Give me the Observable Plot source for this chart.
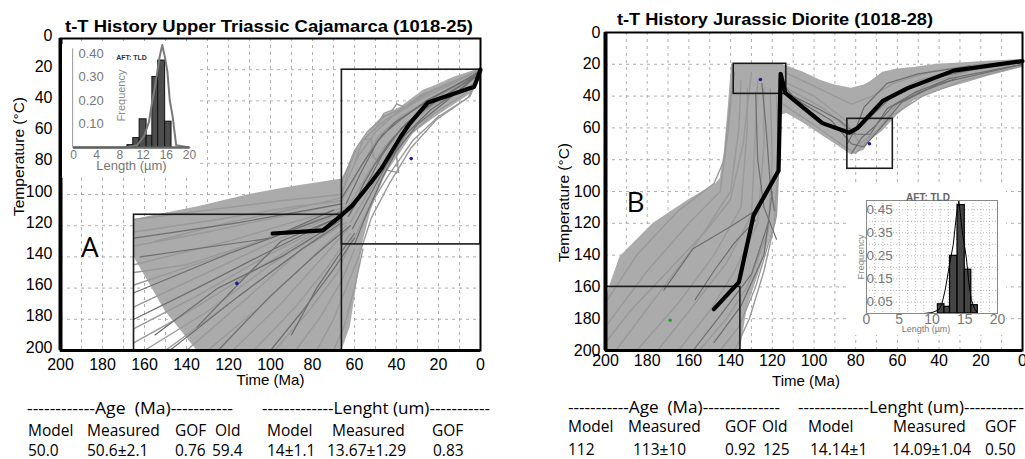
<!DOCTYPE html>
<html><head><meta charset="utf-8">
<script src="https://cdn.jsdelivr.net/npm/d3@7"></script>
<script src="https://cdn.jsdelivr.net/npm/@observablehq/plot@0.6"></script>
<style>
html,body{margin:0;padding:0;background:#fff;}
#root{position:relative;width:1025px;height:459px;overflow:hidden;background:#fff;}
.t{position:absolute;white-space:pre;line-height:1;}
</style></head><body><div id="root"></div>
<script>
// ================= DATA =================
const tickTime = [200,180,160,140,120,100,80,60,40,20,0];
const tickTemp = [0,20,40,60,80,100,120,140,160,180,200];
const gridTime = [190,180,170,160,150,140,130,120,110,100,90,80,70,60,50,40,30,20,10];
const gridTemp = [20,40,60,80,100,120,140,160,180];

// ---- Panel A (1018-25) ----
const titleA = "t-T History Upper Triassic Cajamarca (1018-25)";
const bestA_t = [99,75,66,61,52,47,38,34,25,3,0];
const bestA_T = [125,123,113,107,92,83,63,55,41,31,20];
const envA_t   = [165,150,135,110,90,75,66,62,58,56,52,46,44,38,32,27,21,13,4,0];
const envA_top = [116,112,108,100,95,92,90,80,70,65,58,49,48,44,38,33,30,25,21,19];
const envA_bot = [140,175,200,200,200,200,200,185,150,131,110,90,85,73,61,56,50,43,35,21];
const boxA_tOld = [165,66];
const boxA_tYoung = [66,0];
const boxA_Tlow = [113,20];
const boxA_Thigh = [200,132];
const constraintA_t = [116,33];
const constraintA_T = [157,77];
const lightA = [
  [[165,116],[130,110],[95,104],[66,100]],
  [[165,124],[125,116],[90,108],[66,104]],
  [[165,133],[130,124],[95,114],[66,106]],
  [[165,145],[120,130],[85,116],[64,108]],
  [[165,158],[125,140],[90,122],[65,110]],
  [[165,172],[130,150],[95,128],[66,112]],
  [[165,186],[135,165],[100,138],[66,115]],
  [[160,200],[130,175],[100,145],[68,118]],
  [[150,200],[120,170],[90,140],[66,116]],
  [[140,200],[110,165],[85,135],[64,118]],
  [[130,200],[105,172],[80,140],[64,120]],
  [[118,200],[95,170],[75,140],[63,122]],
  [[108,200],[88,172],[72,145],[62,125]],
  [[98,200],[82,175],[68,150],[61,128]],
  [[88,200],[76,178],[66,155],[60,135]],
  [[78,200],[70,180],[64,160],[58,140]],
  [[70,200],[65,185],[60,160],[56,135]],
  [[165,150],[140,145],[110,132],[80,118],[66,110]],
  [[165,195],[145,180],[115,155],[85,130],[66,114]],
  [[155,130],[120,118],[85,108],[66,102]],
  [[66,98],[58,75],[50,60],[42,50],[30,40],[15,30],[0,20]],
  [[66,104],[57,82],[48,62],[38,50],[25,40],[10,30],[0,21]],
  [[64,110],[56,92],[46,70],[36,56],[24,44],[10,34],[0,22]],
  [[62,118],[54,100],[45,80],[34,62],[22,48],[8,36],[0,23]],
  [[60,128],[53,108],[44,88],[32,65],[20,50],[6,38],[0,24]],
  [[58,140],[52,115],[43,92],[33,70],[21,52],[5,37],[0,22]],
  [[66,92],[60,72],[54,60],[46,50],[36,44],[25,35],[10,26],[0,20]],
  [[66,100],[62,80],[58,68],[52,60],[45,52],[38,46],[28,36],[12,27],[0,20]],
  [[60,80],[56,65],[52,64],[51,76],[46,84],[39,86],[40,75],[36,62],[28,45],[15,33],[0,21]],
  [[50,58],[46,48],[42,46],[40,42],[36,44],[30,38],[20,32],[0,20]]
];
const darkA = [
  [[165,128],[115,118],[66,106]],
  [[165,163],[120,138],[80,118],[64,110]],
  [[165,180],[135,160],[100,136],[70,116]],
  [[148,200],[115,165],[85,135],[66,118]],
  [[125,200],[100,165],[78,138],[62,120]],
  [[100,200],[85,175],[70,148],[60,128]],
  [[155,190],[125,160],[95,140],[66,116]],
  [[162,140],[100,128],[70,110]],
  [[135,185],[110,150],[95,130],[70,116]],
  [[90,190],[78,160],[68,140],[60,125]],
  [[66,102],[56,80],[47,62],[38,52],[26,40],[12,30],[0,21]],
  [[63,114],[55,96],[47,75],[38,58],[28,46],[14,34],[0,22]],
  [[61,122],[54,104],[46,84],[36,62],[24,46],[10,33],[0,21]],
  [[60,132],[55,115],[47,90],[40,72],[30,55],[18,42],[0,22]],
  [[64,106],[57,86],[49,66],[41,54],[32,46],[20,36],[6,26],[0,20]],
  [[62,112],[56,94],[50,80],[43,66],[35,54],[24,43],[10,31],[0,21]]
];
// inset A histogram
const histA_from = [9.3,10.3,11.4,12.6,13.6,14.6,15.8];
const histA_to   = [10.3,11.4,12.6,13.6,14.6,15.8,16.9];
const histA_freq = [0.01,0.04,0.12,0.05,0.30,0.37,0.11];
const curveA_len  = [0,9,11,12.2,13,13.6,14.2,14.8,15.3,15.8,16.2,16.6,17.1,17.7,20];
const curveA_freq = [0,0,0.01,0.05,0.108,0.2,0.28,0.38,0.436,0.38,0.32,0.2,0.13,0.01,0];
const insetA_xticks = [0,4,8,12,16,20];
const insetA_yticks = [0.10,0.20,0.30,0.40];

// ---- Panel B (1018-28) ----
const titleB = "t-T History Jurassic Diorite (1018-28)";
const bestB_t = [148,136,129,117,116,113.7,110,96,83,79,67,55,33,0];
const bestB_T = [174,157,115,87,26,38,42,57,63,60,43,35,24,18];
const envB_t   = [200,193,177,161,147,145,143,141,139.5,135.3,132,126,118,116.5,116,113,105,97,90,82,76,73,67,60,52,41,28,15,0];
const envB_top = [167,141,120,106,95,92,75,45,20,20,20,20,20,20,20,21,25,30,33,35,33,31,25,23,22,20,19,18,17];
const envB_bot = [200,200,200,200,200,200,200,200,200,200,173,150,116,74,52,51,57,64,70,77,74,68,62,52,43,37,32,27,22];
const boxB_tOld = [200,138.5,84];
const boxB_tYoung = [135.3,113.3,62.2];
const boxB_Tlow = [160,19.7,54.3];
const boxB_Thigh = [200,38.6,85.7];
const constraintB_t = [125.7,73.4];
const constraintB_T = [29.6,70];
const startB_t = [169];
const startB_T = [181];
const lightB = [
  [[200,170],[185,140],[165,112],[148,95],[143,80],[140,40],[138,25]],
  [[200,185],[180,150],[160,120],[145,100],[141,60],[139,30]],
  [[195,200],[175,165],[155,130],[140,100],[136,60],[135,30]],
  [[185,200],[165,170],[148,140],[135,110],[132,60],[132,35]],
  [[175,200],[158,172],[142,145],[130,115],[128,60],[127,30]],
  [[165,200],[150,175],[138,150],[127,120],[124,70],[124,35]],
  [[155,200],[142,180],[132,160],[122,125],[120,80],[121,35]],
  [[145,200],[136,185],[128,160],[119,120],[117,75],[118,40]],
  [[138,200],[131,180],[124,150],[118,115],[116,60],[117,30]],
  [[200,195],[188,175],[170,150],[152,125],[140,105],[134,70],[130,25]],
  [[116,30],[100,40],[85,55],[78,70],[70,62],[60,45],[45,32],[25,24],[0,19]],
  [[114,25],[98,35],[82,45],[72,40],[62,32],[45,25],[20,20],[0,18]],
  [[115,45],[100,58],[85,72],[80,76],[73,66],[62,52],[48,40],[28,30],[0,21]],
  [[113,35],[95,48],[83,62],[76,58],[66,42],[50,30],[30,23],[0,19]]
];
const darkB = [
  [[172,162],[158,136],[140,122],[128,112]],
  [[157,168],[148,150],[138,132],[128,118]],
  [[158,200],[145,178],[130,152],[122,120]],
  [[148,195],[135,172],[124,140],[120,100]],
  [[128,38],[127,80],[124,110],[118,130]],
  [[125,32],[123,60],[121,95],[119,112]],
  [[117,30],[110,40],[98,48],[88,55],[80,64],[73,64],[65,48],[52,38],[35,29],[0,20]],
  [[116,35],[105,45],[92,55],[82,70],[76,72],[68,60],[58,44],[40,32],[0,20]],
  [[84,70],[80,60],[72,52],[64,42],[55,35],[40,28],[20,22]],
  [[82,76],[77,66],[70,58],[62,46],[50,38],[32,29]],
  [[81,64],[76,47],[65,32],[50,26],[25,21]]
];
// inset B histogram
const histB_from = [10.9,11.9,12.75,13.9,15.0,16.0];
const histB_to   = [11.9,12.75,13.9,15.0,16.0,17.0];
const histB_freq = [0.04,0.029,0.25,0.47,0.19,0.036];
const curveB_len  = [0,8.75,10,11,11.5,12,12.6,13.25,13.7,14.1,14.6,15.25,15.6,16,16.5,17,20];
const curveB_freq = [0,0,0.004,0.015,0.04,0.1,0.2,0.3,0.42,0.49,0.36,0.24,0.14,0.06,0.02,0,0];
const insetB_xticks = [0,5,10,15,20];
const insetB_yticks = [0.05,0.15,0.25,0.35,0.45];
const insetB_gridX = [1.25,2.5,3.75,5,6.25,7.5,8.75,10,11.25,12.5,13.75,15,16.25,17.5,18.75];
const insetB_gridY = [0.05,0.1,0.15,0.2,0.25,0.3,0.35,0.4,0.45];

// ---- Tables ----
const tableA_head = ["------------Age  (Ma)-----------","-------------Lenght (um)-----------"];
const tableA_cols = ["Model","Measured","GOF","Old","Model","Measured","GOF"];
const tableA_vals = ["50.0","50.6±2.1","0.76","59.4","14±1.1","13.67±1.29","0.83"];
const tableB_head = ["-----------Age  (Ma)--------------","-------------Lenght (um)-----------"];
const tableB_cols = ["Model","Measured","GOF","Old","Model","Measured","GOF"];
const tableB_vals = ["112","113±10","0.92","125","14.14±1","14.09±1.04","0.50"];

// ================= BUILD =================
const root = document.getElementById("root");
const SANS = "'Liberation Sans', Arial, sans-serif";
const TAB = "'Open Sans', 'Noto Sans', sans-serif";

function rowsOf(paths){const r=[];paths.forEach((p,i)=>p.forEach(([t,T])=>r.push({id:i,t,T})));return r;}
function zip2(a,b,ka,kb){return a.map((v,i)=>({[ka]:v,[kb]:b[i]}));}
function place(svg,left,top){const d=document.createElement("div");d.style.position="absolute";d.style.left=left+"px";d.style.top=top+"px";d.appendChild(svg);root.appendChild(d);}

function mainPanel(o){
  const env = o.envT.map((t,i)=>({t,top:o.envTop[i],bot:o.envBot[i]}));
  const boxes = o.bOld.map((t1,i)=>({t1,t2:o.bYoung[i],T1:o.bLow[i],T2:o.bHigh[i]}));
  return Plot.plot({
    width:o.w,height:395,marginLeft:o.ml,marginRight:o.mr,marginTop:o.mt,marginBottom:45,
    x:{domain:[200,0]},
    y:{domain:[0,200],reverse:true},
    style:{fontFamily:SANS,fontSize:"16px",color:"#000",background:"#fff",overflow:"visible"},
    marks:[
      Plot.gridX(gridTime,{stroke:"#9a9a9a",strokeOpacity:1,strokeWidth:0.8,strokeDasharray:"3,4"}),
      Plot.gridY(gridTemp,{stroke:"#9a9a9a",strokeOpacity:1,strokeWidth:0.8,strokeDasharray:"3,4"}),
      Plot.areaY(env,{x:"t",y1:"top",y2:"bot",fill:"#ababab"}),
      Plot.line(rowsOf(o.light),{x:"t",y:"T",z:"id",stroke:"#999",strokeWidth:1.4}),
      Plot.line(rowsOf(o.dark),{x:"t",y:"T",z:"id",stroke:"#6e6e6e",strokeWidth:1.2}),
      Plot.rect(boxes,{x1:"t1",x2:"t2",y1:"T1",y2:"T2",fill:"none",stroke:"#1a1a1a",strokeWidth:1.6}),
      Plot.line(zip2(o.bestT,o.bestTemp,"t","T"),{x:"t",y:"T",stroke:"#000",strokeWidth:4.2,strokeLinejoin:"round"}),
      Plot.dot(zip2(o.ptT,o.ptTemp,"t","T"),{x:"t",y:"T",r:1.8,fill:"#1c1c96",stroke:null}),
      ...(o.gT?[Plot.dot(zip2(o.gT,o.gTemp,"t","T"),{x:"t",y:"T",r:1.8,fill:"#2a9a2a",stroke:null})]:[]),
      Plot.axisX(tickTime,{tickSize:0,tickPadding:o.xpad,label:null,fontSize:16}),
      Plot.axisY(tickTemp,{tickSize:0,tickPadding:o.ypad,label:null,fontSize:16,dy:o.ydy}),
      Plot.frame({stroke:"#000",strokeWidth:2}),
      Plot.ruleX([200],{stroke:"#000",strokeWidth:4}),
      Plot.ruleY([200],{stroke:"#000",strokeWidth:3}),
      Plot.text([o.letter],{x:o.letterT,y:o.letterTemp,text:d=>d,fontSize:28,fontFamily:TAB,textAnchor:"middle"}),
      Plot.text(["Time (Ma)"],{frameAnchor:"bottom",text:d=>d,textAnchor:"middle",dy:o.timeDy,dx:o.timeDx,fontSize:15,fontFamily:SANS,letterSpacing:"-0.5px"}),
      Plot.text(["Temperature (°C)"],{frameAnchor:"left",text:d=>d,textAnchor:"middle",rotate:-90,dx:-41,dy:o.tempDy,fontSize:15.5,fontFamily:SANS})
    ]
  });
}

const svgA = mainPanel({w:512,ml:60,mr:32,mt:38,envT:envA_t,envTop:envA_top,envBot:envA_bot,
  bOld:boxA_tOld,bYoung:boxA_tYoung,bLow:boxA_Tlow,bHigh:boxA_Thigh,light:lightA,dark:darkA,
  bestT:bestA_t,bestTemp:bestA_T,ptT:constraintA_t,ptTemp:constraintA_T,
  xpad:8,ypad:8,ydy:-3,letter:"A",letterT:186,letterTemp:134,timeDy:34,timeDx:0,tempDy:-38});
place(svgA,0,0);

const svgB = mainPanel({w:505,ml:85,mr:3,mt:32,envT:envB_t,envTop:envB_top,envBot:envB_bot,
  bOld:boxB_tOld,bYoung:boxB_tYoung,bLow:boxB_Tlow,bHigh:boxB_Thigh,light:lightB,dark:darkB,
  bestT:bestB_t,bestTemp:bestB_T,ptT:constraintB_t,ptTemp:constraintB_T,gT:startB_t,gTemp:startB_T,
  xpad:4,ypad:5,ydy:0,letter:"B",letterT:185.6,letterTemp:107.5,timeDy:35,timeDx:-8,tempDy:11});
place(svgB,520,0);

// Inset A
const insetA = Plot.plot({
  width:138,height:134,marginLeft:11,marginRight:11,marginTop:9,marginBottom:31,
  x:{domain:[0,20],axis:null},y:{domain:[0,0.4],axis:null},
  style:{fontFamily:SANS,background:"#fff",overflow:"visible"},
  marks:[
    Plot.rect(histA_freq.map((f,i)=>({a:histA_from[i],b:histA_to[i],f})),{x1:"a",x2:"b",y1:()=>0,y2:"f",fill:"#4d4d4d",stroke:"#111",strokeWidth:1}),
    Plot.line(zip2(curveA_len,curveA_freq,"l","f"),{x:"l",y:"f",stroke:"#7a7a7a",strokeWidth:2}),
    Plot.ruleX([0],{y1:0,y2:0.42,x:()=>-0.15,stroke:"#999",strokeWidth:1}),
    Plot.ruleY([0],{x1:0,x2:20,stroke:"#666",strokeWidth:2.5}),
    Plot.text(insetA_yticks,{x:0,y:d=>d,text:d=>d.toFixed(2),textAnchor:"start",dx:5,fill:"#777",fontSize:13}),
    Plot.text(insetA_xticks,{x:d=>d,y:0,text:d=>String(d),textAnchor:"middle",dy:8,fill:"#777",fontSize:12}),
    Plot.text(["Length (µm)"],{frameAnchor:"bottom",text:d=>d,textAnchor:"middle",dy:22.5,fill:"#777",fontSize:13}),
    Plot.text(["Frequency"],{frameAnchor:"top-left",text:d=>d,textAnchor:"middle",rotate:-90,dx:44,dy:42,fill:"#888",fontSize:11}),
    Plot.text(["AFT: TLD"],{frameAnchor:"top-left",text:d=>d,textAnchor:"middle",dx:58,dy:2,fill:"#333",fontSize:7,fontWeight:"bold"})
  ]
});
place(insetA,62,44);

// Inset B
const insetB = Plot.plot({
  width:160,height:150,marginLeft:20,marginRight:9,marginTop:15,marginBottom:22,
  x:{domain:[0,20],axis:null},y:{domain:[0,0.49],axis:null},
  style:{fontFamily:SANS,background:"#fff",overflow:"visible"},
  marks:[
    Plot.gridX(insetB_gridX,{stroke:"#bbb",strokeOpacity:1,strokeDasharray:"1,2"}),
    Plot.gridY(insetB_gridY,{stroke:"#bbb",strokeOpacity:1,strokeDasharray:"1,2"}),
    Plot.rect(histB_freq.map((f,i)=>({a:histB_from[i],b:histB_to[i],f})),{x1:"a",x2:"b",y1:()=>0,y2:"f",fill:"#454545",stroke:"#000",strokeWidth:1.2}),
    Plot.line(zip2(curveB_len,curveB_freq,"l","f"),{x:"l",y:"f",stroke:"#000",strokeWidth:1}),
    Plot.frame({stroke:"#888",strokeWidth:1}),
    Plot.text(insetB_yticks,{x:0,y:d=>d,text:d=>d.toFixed(2),textAnchor:"start",dx:0,fill:"#777",fontSize:13.5}),
    Plot.text(insetB_xticks,{x:d=>d,y:0,text:d=>String(d),textAnchor:"middle",dy:6,fill:"#777",fontSize:14}),
    Plot.text(["Length (µm)"],{frameAnchor:"bottom",text:d=>d,textAnchor:"middle",dy:18,dx:-6,fill:"#777",fontSize:9}),
    Plot.text(["Frequency"],{frameAnchor:"left",text:d=>d,textAnchor:"middle",rotate:-90,dx:-6,dy:0,fill:"#888",fontSize:9.5}),
    Plot.text(["AFT: TLD"],{frameAnchor:"top",text:d=>d,textAnchor:"middle",dy:-7,dx:-4,fill:"#666",fontSize:10,fontWeight:"bold"})
  ]
});
place(insetB,846,185);

// ---- HTML texts (titles, tables) ----
function put(text,x,baseline,fs,fam,asc,opts={}){
  const s=document.createElement("div");s.className="t";s.textContent=text;
  s.style.left=x+"px";s.style.top=(baseline-asc*fs)+"px";
  s.style.fontSize=fs+"px";s.style.fontFamily=fam;
  if(opts.bold)s.style.fontWeight="bold";
  root.appendChild(s);
  if(opts.w){const w=s.getBoundingClientRect().width;s.style.transformOrigin="0 50%";s.style.transform=`scaleX(${opts.w/w})`;}
  return s;
}
const L = {
  titleA:{x:65,base:33,w:408}, titleB:{x:617,base:26,w:316},
  headA_x:[27,262], headA_w:[206,228], headA_base:414.5,
  colsA_x:[28,87,175,215,267,332,432], colsA_base:436.5,
  valsA_x:[28,87,175,212,267,327,433], valsA_base:456.5,
  headB_x:[568,798], headB_w:[212,226], headB_base:413.5,
  colsB_x:[568,628,725,762,808,893,985], colsB_base:433,
  valsB_x:[568,633,725,763,810,892,985], valsB_base:456
};
const FS = 15.5;
put(titleA,L.titleA.x,L.titleA.base,16,SANS,0.8465,{bold:true,w:L.titleA.w});
put(titleB,L.titleB.x,L.titleB.base,16,SANS,0.8465,{bold:true,w:L.titleB.w});
tableA_head.forEach((h,i)=>put(h,L.headA_x[i],L.headA_base,FS,TAB,0.888,{w:L.headA_w[i]}));
tableA_cols.forEach((h,i)=>put(h,L.colsA_x[i],L.colsA_base,FS,TAB,0.888));
tableA_vals.forEach((h,i)=>put(h,L.valsA_x[i],L.valsA_base,FS,TAB,0.888));
tableB_head.forEach((h,i)=>put(h,L.headB_x[i],L.headB_base,FS,TAB,0.888,{w:L.headB_w[i]}));
tableB_cols.forEach((h,i)=>put(h,L.colsB_x[i],L.colsB_base,FS,TAB,0.888));
tableB_vals.forEach((h,i)=>put(h,L.valsB_x[i],L.valsB_base,FS,TAB,0.888));
</script></body></html>
